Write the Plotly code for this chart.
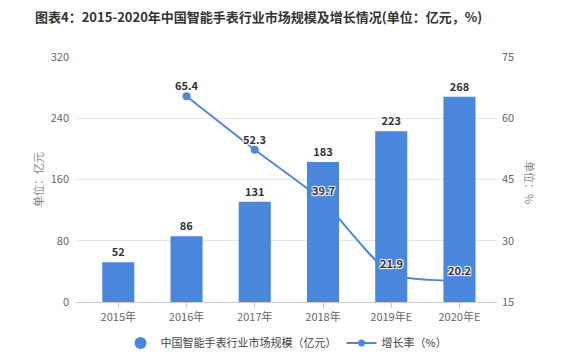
import plotly.graph_objects as go

categories = ["2015年", "2016年", "2017年", "2018年", "2019年E", "2020年E"]
market_size = [52, 86, 131, 183, 223, 268]
growth_cats = ["2016年", "2017年", "2018年", "2019年E", "2020年E"]
growth_rate = [65.4, 52.3, 39.7, 21.9, 20.2]
left_ticks = [0, 80, 160, 240, 320]
right_ticks = [15, 30, 45, 60, 75]

BAR = "#4a87dc"
LINE = "#4f89d6"
FONT = "Noto Sans CJK SC"

fig = go.Figure()

# growth line on base axis (drawn beneath bars)
fig.add_trace(go.Scatter(
    x=growth_cats, y=growth_rate, yaxis="y", mode="lines+markers",
    line=dict(color=LINE, width=2, shape="spline", smoothing=0.6),
    marker=dict(size=8, color=LINE), showlegend=False, hoverinfo="skip"))

# bars on overlaying axis (drawn on top)
fig.add_trace(go.Bar(
    x=categories, y=market_size, yaxis="y2", marker=dict(color=BAR, line=dict(width=0)),
    text=[str(v) for v in market_size], textposition="outside", cliponaxis=False,
    textfont=dict(family=FONT, size=11, color="#333333", weight="bold"),
    showlegend=False, width=0.47))

# legend entries
fig.add_trace(go.Scatter(x=[None], y=[None], yaxis="y2", mode="markers",
                         marker=dict(symbol="circle", size=12, color=BAR),
                         name="中国智能手表行业市场规模（亿元）"))
fig.add_trace(go.Scatter(x=[None], y=[None], yaxis="y", mode="lines+markers",
                         line=dict(color=LINE, width=2), marker=dict(size=7, color=LINE),
                         name="增长率（%）"))

shadow = "1px 1px 1px #fff, -1px -1px 1px #fff, 1px -1px 1px #fff, -1px 1px 1px #fff"
for c, v in zip(growth_cats, growth_rate):
    fig.add_annotation(x=c, y=v, xref="x", yref="y", text=f"{v}", showarrow=False,
                       yshift=11, font=dict(family=FONT, size=11, color="#333333",
                                            weight="bold", shadow=shadow))

fig.update_layout(
    width=577, height=362,
    margin=dict(l=76, r=80, t=57, b=60, autoexpand=False),
    paper_bgcolor="white", plot_bgcolor="white",
    font=dict(family=FONT, size=11, color="#666666"),
    title=dict(text="<b>图表4：2015-2020年中国智能手表行业市场规模及增长情况(单位：亿元，%)</b>",
               x=35/577, xanchor="left", y=1 - 17/362, yanchor="middle",
               font=dict(family=FONT, size=13, color="#333333")),
    xaxis=dict(type="category", categoryorder="array", categoryarray=categories,
               range=[-0.62, 5.55], showgrid=False, automargin=False,
               showline=True, linecolor="#cccccc", linewidth=1,
               ticks="outside", ticklen=5, tickcolor="#cccccc",
               tickfont=dict(size=11, color="#666666")),
    yaxis=dict(side="right", range=[15, 75], tickvals=right_ticks, showgrid=False,
               zeroline=False, showline=False, ticks="", ticklabelstandoff=4,
               automargin=False, tickfont=dict(size=11, color="#666666")),
    yaxis2=dict(side="left", overlaying="y", range=[0, 320], tickvals=left_ticks,
                showgrid=True, gridcolor="#e6e6e6", zeroline=False, showline=False,
                ticks="", ticklabelstandoff=6, automargin=False,
                tickfont=dict(size=11, color="#666666"),
                title=dict(text="单位：亿元", standoff=4,
                           font=dict(size=11, color="#888888"))),
    legend=dict(orientation="h", x=0.5, xanchor="center",
                yref="container", y=1 - 343/362, yanchor="middle",
                font=dict(size=11, color="#444444")),
    bargap=0.53,
)

fig.add_annotation(text="单位：%", xref="paper", yref="paper", x=1.0,
                   xshift=43, y=0.49, showarrow=False, textangle=90,
                   font=dict(size=11, color="#888888"))

fig.write_html("out.html", config={"displayModeBar": False},
               post_script="document.body.style.margin='0px';")
